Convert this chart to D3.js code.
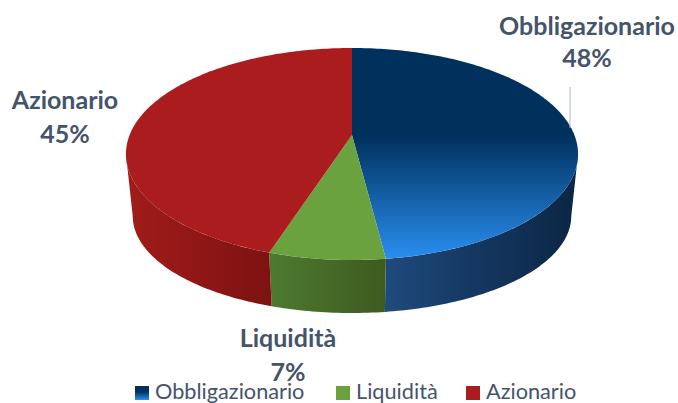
<!DOCTYPE html>
<html>
<head>
<meta charset="utf-8">
<script src="https://cdn.jsdelivr.net/npm/d3@7"></script>
<style>
  html, body { margin: 0; padding: 0; background: #fff; overflow: hidden; }
  text { font-family: Lato, "Open Sans", sans-serif; fill: #44546a; }
</style>
</head>
<body>
<div id="chart"></div>
<script>
var categories = ["Obbligazionario", "Liquidità", "Azionario"];
var values = [48, 7, 45];
var labelLines = ["48%", "7%", "45%"];

var width = 678, height = 403;

// tilted disc: far edge, apex and near edge on screen give the perspective
var cx = 352, apexY = 135, farY = 48, nearY = 260, radius = 222.4;
var c = (2 * apexY - nearY - farY) / (nearY - farY);
var a = nearY * (1 + c) - apexY;

function topPoint(th) {
    var t = -Math.cos(th), den = 1 + c * t;
    return [cx + radius * Math.sin(th) / den, (a * t + apexY) / den];
}
// lower rim is a bit smaller than the upper one
function lowPoint(th) {
    var p = topPoint(th);
    return [cx + (p[0] - cx) * 0.97, 154 + (p[1] - 154) * 0.915 + 62];
}

var svg = d3.select("#chart").append("svg")
    .attr("width", width).attr("height", height);
var defs = svg.append("defs");

var topBlue = defs.append("linearGradient").attr("id", "topBlue")
    .attr("gradientUnits", "userSpaceOnUse")
    .attr("x1", 0).attr("x2", 0).attr("y1", farY).attr("y2", nearY);
topBlue.append("stop").attr("offset", 0).attr("stop-color", "#00305c");
topBlue.append("stop").attr("offset", 0.41).attr("stop-color", "#00305c");
topBlue.append("stop").attr("offset", 1).attr("stop-color", "#2a8ff2");

var swatchBlue = defs.append("linearGradient").attr("id", "swatchBlue")
    .attr("x1", 0).attr("x2", 0).attr("y1", 0).attr("y2", 1);
swatchBlue.append("stop").attr("offset", 0).attr("stop-color", "#00305c");
swatchBlue.append("stop").attr("offset", 0.41).attr("stop-color", "#00305c");
swatchBlue.append("stop").attr("offset", 1).attr("stop-color", "#2a8ff2");

var topFill = ["url(#topBlue)", "#6aa23f", "#ab1c1f"];
var swatchFill = ["url(#swatchBlue)", "#6aa23f", "#ab1c1f"];
var wallStops = [
    ["#1f4a7d", "#14365f", "#0b2644"],
    ["#4d7a30", "#3e5a20"],
    ["#a01c1a", "#7e1212"]
];

var pie = d3.pie().sort(null).value(function(d) { return d; });
var arcs = pie(values);
var line = d3.line();

function sweep(a0, a1) {
    var n = Math.max(2, Math.ceil((a1 - a0) * 60));
    return d3.range(n + 1).map(function(i) { return a0 + (a1 - a0) * i / n; });
}

// angles where the rim is widest on screen, the wall only shows between them
var wallFrom = Math.acos(c);
var wallTo = 2 * Math.PI - wallFrom;

arcs.forEach(function(d, i) {
    var a0 = Math.max(d.startAngle, wallFrom), a1 = Math.min(d.endAngle, wallTo);
    if (a1 <= a0) return;
    var angles = sweep(a0, a1);
    var upper = angles.map(topPoint);
    var lower = angles.map(lowPoint).reverse();
    var xs = upper.map(function(p) { return p[0]; });
    var g = defs.append("linearGradient").attr("id", "wall" + i)
        .attr("gradientUnits", "userSpaceOnUse")
        .attr("x1", d3.min(xs)).attr("x2", d3.max(xs)).attr("y1", 0).attr("y2", 0);
    wallStops[i].forEach(function(col, j) {
        g.append("stop").attr("offset", j / (wallStops[i].length - 1)).attr("stop-color", col);
    });
    svg.append("path")
        .attr("d", line(upper.concat(lower)) + "Z")
        .attr("fill", "url(#wall" + i + ")");
});

// top face
svg.selectAll("path.slice").data(arcs).enter().append("path")
    .attr("class", "slice")
    .attr("fill", function(d, i) { return topFill[i]; })
    .attr("d", function(d) {
        return line([[cx, apexY]].concat(sweep(d.startAngle, d.endAngle).map(topPoint))) + "Z";
    });

// leader of the first label
svg.append("line")
    .attr("x1", 570).attr("x2", 570).attr("y1", 87).attr("y2", 128)
    .attr("stroke", "#a9b8cf").attr("stroke-width", 1);

// data labels
var labelPos = [[587, 35, 67], [288, 347, 381], [65, 109, 143]];
categories.forEach(function(name, i) {
    var g = svg.append("g").attr("font-weight", 700).attr("font-size", 25).attr("text-anchor", "middle");
    g.append("text").attr("x", labelPos[i][0]).attr("y", labelPos[i][1]).text(name);
    g.append("text").attr("x", labelPos[i][0]).attr("y", labelPos[i][2]).text(labelLines[i]);
});

// legend
var legendX = d3.scaleOrdinal().domain(categories).range([135, 336, 466]);
var legend = svg.selectAll("g.legend").data(categories).enter().append("g")
    .attr("class", "legend")
    .attr("transform", function(d) { return "translate(" + legendX(d) + ",386)"; });
legend.append("rect").attr("width", 14).attr("height", 14)
    .attr("fill", function(d, i) { return swatchFill[i]; });
legend.append("text").attr("x", 20).attr("y", 13).attr("font-size", 21.7)
    .text(function(d) { return d; });
</script>
</body>
</html>
